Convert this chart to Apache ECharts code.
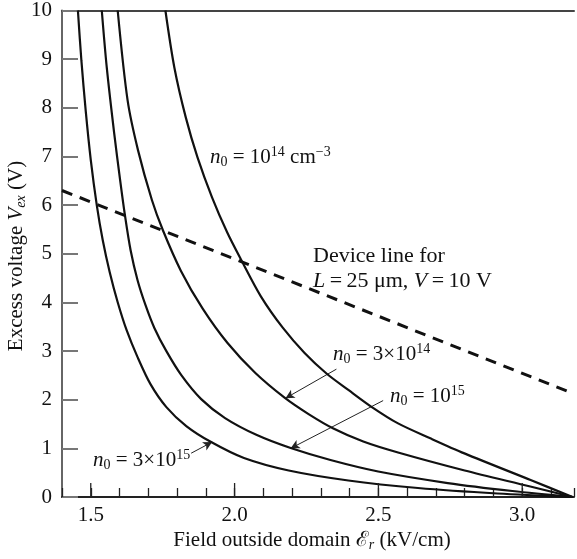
<!DOCTYPE html>
<html><head><meta charset="utf-8">
<script src="https://cdn.jsdelivr.net/npm/echarts@6/dist/echarts.min.js"></script>
<style>html,body{margin:0;padding:0;background:#fff}#c{width:577px;height:559px}</style>
</head><body><div id="c"></div>
<script>
// ---- data (x: field outside domain, kV/cm ; y: excess voltage, V) ----
const xMin = 1.4, xMax = 3.18;
const yMin = 0, yMax = 10;
const xMajorTicks = [1.5, 2.0, 2.5, 3.0];

const curveN14 = [[1.7595,10],[1.7906,8.830],[1.8303,7.803],[1.8711,6.982],[1.9216,6.160],[1.9741,5.441],[2.0236,4.867],[2.0913,4.125],[2.1674,3.480],[2.2434,2.961],[2.3205,2.534],[2.3955,2.201],[2.4760,1.854],[2.5683,1.513],[2.6824,1.201],[2.7989,0.897],[3.0291,0.349],[3.175,0]];
const curve3N14 = [[1.5936,10],[1.6281,8.152],[1.6644,7.125],[1.7128,6.099],[1.7508,5.483],[1.8131,4.653],[1.8891,3.871],[1.9755,3.164],[2.0723,2.548],[2.1760,2.031],[2.2572,1.704],[2.3436,1.407],[2.4474,1.140],[2.5683,0.914],[2.7999,0.544],[3.0280,0.216],[3.175,0]];
const curveN15 = [[1.5383,10],[1.5556,8.830],[1.5815,7.474],[1.6022,6.509],[1.6188,5.791],[1.6385,5.072],[1.6627,4.456],[1.6904,3.943],[1.7215,3.470],[1.7629,2.998],[1.8148,2.505],[1.8839,2.012],[1.9669,1.622],[2.0775,1.273],[2.1950,1.006],[2.3333,0.760],[2.4992,0.524],[2.7411,0.287],[2.9658,0.123],[3.175,0]];
const curve3N15 = [[1.4553,10],[1.4674,8.973],[1.4823,7.947],[1.5002,6.920],[1.5210,5.996],[1.5417,5.277],[1.5659,4.620],[1.5936,4.004],[1.6247,3.429],[1.6627,2.875],[1.7076,2.320],[1.7629,1.848],[1.8321,1.458],[1.9185,1.129],[2.0326,0.801],[2.1881,0.544],[2.3955,0.339],[2.6375,0.185],[2.9140,0.072],[3.175,0]];
const deviceLine = [[1.4,6.30],[3.18,2.12]];

// annotation arrows [from, to] in data units
const arrows = [
  [[2.354,2.628],[2.177,2.03]],
  [[2.5165,1.982],[2.195,1.0]],
  [[1.849,0.90],[1.922,1.13]]
];

const FONT = '"Liberation Serif","DejaVu Serif",serif';
function mkRich(fs) {
  const s = Math.round(fs * 0.65);
  return {
    i:   {fontFamily: FONT, fontSize: fs, fontStyle: 'italic', lineHeight: 24, fill: '#111'},
    t:   {fontFamily: FONT, fontSize: fs, lineHeight: 24, fill: '#111'},
    sub: {fontFamily: FONT, fontSize: s, verticalAlign: 'bottom', lineHeight: 12, fill: '#111'},
    sup: {fontFamily: FONT, fontSize: s, verticalAlign: 'top', lineHeight: 12, fill: '#111'},
    isub:{fontFamily: FONT, fontSize: s, fontStyle: 'italic', verticalAlign: 'bottom', lineHeight: 12, fill: '#111'}
  };
}
function label(text, x, y, fs, align, rot) {
  return {
    type: 'text', x: x, y: y, z: 100, rotation: rot || 0,
    style: {text: text, rich: mkRich(fs), fontFamily: FONT, fontSize: fs,
            textVerticalAlign: 'middle', textAlign: align || 'left', fill: '#111'}
  };
}

const chart = echarts.init(document.getElementById('c'), null, {renderer: 'canvas'});
const curveStyle = {color: '#111', width: 2.2};
function curve(name, data) {
  return {name: name, type: 'line', data: data, smooth: 0.3, showSymbol: false, symbol: 'none',
          lineStyle: curveStyle, clip: true, z: 5};
}

chart.setOption({
  animation: false,
  backgroundColor: '#fff',
  grid: {left: 62, right: 0, top: 10, bottom: 62},
  xAxis: [{
    type: 'value', min: xMin, max: xMax, interval: 0.1,
    axisLine: {show: true, lineStyle: {color: '#222', width: 2}},
    axisTick: {show: true, inside: true, length: 9, lineStyle: {color: '#222', width: 1.3}},
    splitLine: {show: false},
    axisLabel: {
      margin: 8, fontFamily: FONT, fontSize: 21, color: '#111',
      formatter: function (v) {
        return Math.abs(v * 2 - Math.round(v * 2)) < 1e-6 && v < 3.15 && v > 1.45 ? v.toFixed(1) : '';
      }
    }
  }, {
    type: 'value', position: 'top', min: xMin, max: xMax,
    axisLine: {show: true, onZero: false, lineStyle: {color: '#444', width: 2}},
    axisTick: {show: false}, axisLabel: {show: false}, splitLine: {show: false}
  }],
  yAxis: {
    type: 'value', min: yMin, max: yMax, interval: 1,
    axisLine: {show: true, lineStyle: {color: '#666', width: 2}},
    axisTick: {show: true, inside: true, length: 16, lineStyle: {color: '#777', width: 2}},
    splitLine: {show: false},
    axisLabel: {margin: 10, fontFamily: FONT, fontSize: 21, color: '#111'}
  },
  series: [
    curve('n0=1e14', curveN14),
    curve('n0=3e14', curve3N14),
    curve('n0=1e15', curveN15),
    curve('n0=3e15', curve3N15),
    {
      name: 'device', type: 'line', data: deviceLine, showSymbol: false, symbol: 'none',
      lineStyle: {color: '#111', width: 3, type: [11, 8]}, z: 6,
      markLine: {
        silent: true, symbol: ['none', 'arrow'], symbolSize: [7, 9], label: {show: false},
        lineStyle: {color: '#222', width: 1, type: 'solid'},
        data: arrows.map(a => [{coord: a[0]}, {coord: a[1]}])
      }
    },
    {
      name: 'majorTicks', type: 'custom', data: xMajorTicks.map(v => [v, 0]), z: 7, silent: true,
      renderItem: function (params, api) {
        const p = api.coord([api.value(0), 0]);
        return {type: 'line', shape: {x1: p[0], y1: p[1], x2: p[0], y2: p[1] - 14},
                style: {stroke: '#222', lineWidth: 1.3}};
      }
    }
  ],
  graphic: [
    label('{i|n}{sub|0}{t| = 10}{sup|14}{t| cm}{sup|−3}', 210, 157, 21),
    label('{t|Device line for}', 313, 256, 22),
    label('{i|L}{t|\u2009=\u200925 μm, }{i|V}{t|\u2009=\u200910 V}', 313, 281, 22),
    label('{i|n}{sub|0}{t| = 3×10}{sup|14}', 333, 354, 21),
    label('{i|n}{sub|0}{t| = 10}{sup|15}', 390, 396, 21),
    label('{i|n}{sub|0}{t| = 3×10}{sup|15}', 93, 460, 21),
    label('{t|Field outside domain ℰ}{isub|r}{t| (kV/cm)}', 312, 540, 21, 'center'),
    label('{t|Excess voltage }{i|V}{isub|ex}{t| (V)}', 16, 256, 21, 'center', Math.PI / 2)
  ]
});
</script>
</body></html>
